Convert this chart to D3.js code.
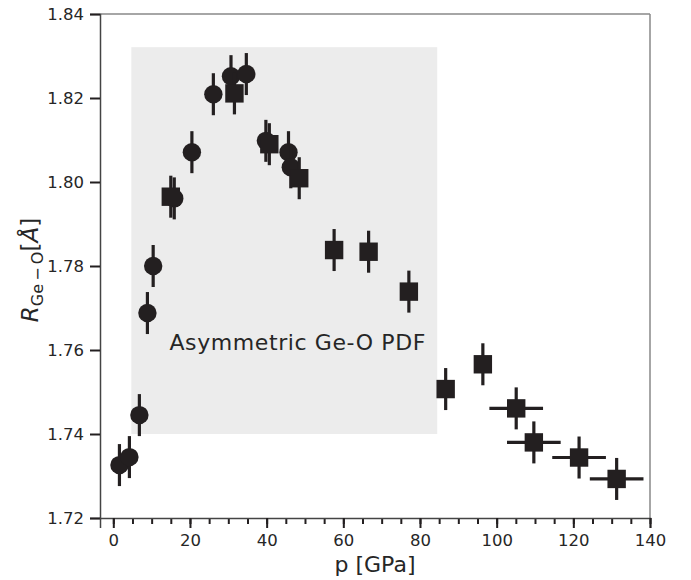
<!DOCTYPE html>
<html>
<head>
  <meta charset="utf-8">
  <script src="https://d3js.org/d3.v7.min.js"></script>
  <style type="text/css">
    body { margin: 0; background: #fff; }
    text { font-family: "DejaVu Sans", sans-serif; fill: #262626; }
  </style>
</head>
<body>
<script type="text/javascript">
  // circles: pressure, R, error
  var circleP = [1.6, 4.2, 6.8, 8.9, 10.4, 15.9, 20.5, 26.1, 30.7, 34.7, 39.8, 45.7, 46.3];
  var circleR = [1.7326, 1.7345, 1.7445, 1.7688, 1.7800, 1.7961, 1.8071, 1.8209, 1.8252, 1.8257, 1.8098, 1.8071, 1.8035];
  var circleErr = [0.005, 0.005, 0.005, 0.005, 0.005, 0.005, 0.005, 0.005, 0.005, 0.005, 0.005, 0.005, 0.005];

  // squares: pressure, R, y error, x error
  var squareP = [15.0, 31.6, 40.7, 48.5, 57.6, 66.6, 77.1, 86.7, 96.4, 105.1, 109.7, 121.5, 131.3];
  var squareR = [1.7965, 1.8211, 1.8090, 1.8009, 1.7838, 1.7834, 1.7739, 1.7507, 1.7566, 1.7461, 1.7380, 1.7344, 1.7293];
  var squareErr = [0.005, 0.005, 0.005, 0.005, 0.005, 0.005, 0.005, 0.005, 0.005, 0.005, 0.005, 0.005, 0.005];
  var squareXErr = [0, 0, 0, 0, 0, 0, 0, 0, 0, 7, 7, 7, 7];

  var xTicks = [0, 20, 40, 60, 80, 100, 120, 140];
  var yTicks = [1.72, 1.74, 1.76, 1.78, 1.80, 1.82, 1.84];
  var shadeP = [4.7, 84.5];
  var shadeR = [1.740, 1.8321];

  var width = 691, height = 580;
  var margin = {left: 100, right: 41, top: 14, bottom: 62};

  var svg = d3.select("body").append("svg")
      .attr("width", width)
      .attr("height", height);

  var x = d3.scaleLinear().domain([-3.47, 140]).range([margin.left, width - margin.right]);
  var y = d3.scaleLinear().domain([1.72, 1.84]).range([height - margin.bottom, margin.top]);

  var ink = "#231f20";

  // shaded region
  svg.append("rect")
      .attr("x", x(shadeP[0]))
      .attr("y", y(shadeR[1]))
      .attr("width", x(shadeP[1]) - x(shadeP[0]))
      .attr("height", y(shadeR[0]) - y(shadeR[1]))
      .attr("fill", "#ececec");

  svg.append("text")
      .attr("x", x(48.1))
      .attr("y", y(1.76))
      .attr("text-anchor", "middle")
      .style("font-size", "22px")
      .style("letter-spacing", "0.6px")
      .text("Asymmetric Ge-O PDF");

  // spines
  var x0 = x.range()[0], x1 = x.range()[1], y0 = y.range()[0], y1 = y.range()[1];
  svg.append("line").attr("x1", x0).attr("x2", x1).attr("y1", y1).attr("y2", y1)
      .attr("stroke", "#888").attr("stroke-width", 1.5);
  svg.append("line").attr("x1", x1).attr("x2", x1).attr("y1", y1).attr("y2", y0)
      .attr("stroke", "#888").attr("stroke-width", 1.5);

  // axes
  var yAxis = svg.append("g")
      .attr("transform", "translate(" + x0 + ",0)")
      .call(d3.axisLeft(y).tickValues(yTicks).tickFormat(d3.format(".2f")).tickSize(10).tickPadding(6));
  var xMinor = svg.append("g")
      .attr("transform", "translate(0," + y0 + ")")
      .call(d3.axisBottom(x).tickValues(d3.range(0, 141, 5)).tickSize(6).tickFormat(""));
  var xAxis = svg.append("g")
      .attr("transform", "translate(0," + y0 + ")")
      .call(d3.axisBottom(x).tickValues(xTicks).tickSize(10).tickPadding(6));

  [yAxis, xAxis, xMinor].forEach(function(g) {
    g.select(".domain").attr("stroke", "#444").attr("stroke-width", 1.5);
    g.selectAll(".tick line").attr("stroke", ink).attr("stroke-width", 2);
    g.selectAll(".tick text").style("font-size", "16.5px").attr("fill", "#262626");
  });
  xMinor.select(".domain").remove();

  // labels
  svg.append("text")
      .attr("x", (x0 + x1) / 2)
      .attr("y", 572)
      .attr("text-anchor", "middle")
      .style("font-size", "22px")
      .text("p [GPa]");

  var ylab = svg.append("text")
      .attr("transform", "translate(38," + 270 + ") rotate(-90)")
      .attr("text-anchor", "middle")
      .style("font-size", "23px");
  ylab.append("tspan").style("font-style", "italic").text("R");
  ylab.append("tspan").attr("dy", 5).style("font-size", "16px").text("Ge\u2009\u2212\u2009O");
  ylab.append("tspan").attr("dy", -5).text("[");
  ylab.append("tspan").style("font-style", "italic").text("\u00c5");
  ylab.append("tspan").text("]");

  // data
  var circles = circleP.map(function(p, i) { return {p: p, r: circleR[i], e: circleErr[i]}; });
  var squares = squareP.map(function(p, i) { return {p: p, r: squareR[i], e: squareErr[i], xe: squareXErr[i]}; });

  var gc = svg.append("g");
  circles.forEach(function(d) {
    gc.append("line")
        .attr("x1", x(d.p)).attr("x2", x(d.p))
        .attr("y1", y(d.r - d.e)).attr("y2", y(d.r + d.e))
        .attr("stroke", ink).attr("stroke-width", 3.2);
    gc.append("circle")
        .attr("cx", x(d.p)).attr("cy", y(d.r)).attr("r", 9.2)
        .attr("fill", ink);
  });

  var gs = svg.append("g");
  squares.forEach(function(d) {
    gs.append("line")
        .attr("x1", x(d.p)).attr("x2", x(d.p))
        .attr("y1", y(d.r - d.e)).attr("y2", y(d.r + d.e))
        .attr("stroke", ink).attr("stroke-width", 3.2);
    if (d.xe > 0) {
      gs.append("line")
          .attr("x1", x(d.p - d.xe)).attr("x2", x(d.p + d.xe))
          .attr("y1", y(d.r)).attr("y2", y(d.r))
          .attr("stroke", ink).attr("stroke-width", 3.2);
    }
    gs.append("rect")
        .attr("x", x(d.p) - 9.2).attr("y", y(d.r) - 9.2)
        .attr("width", 18.4).attr("height", 18.4)
        .attr("fill", ink);
  });
</script>
</body>
</html>
